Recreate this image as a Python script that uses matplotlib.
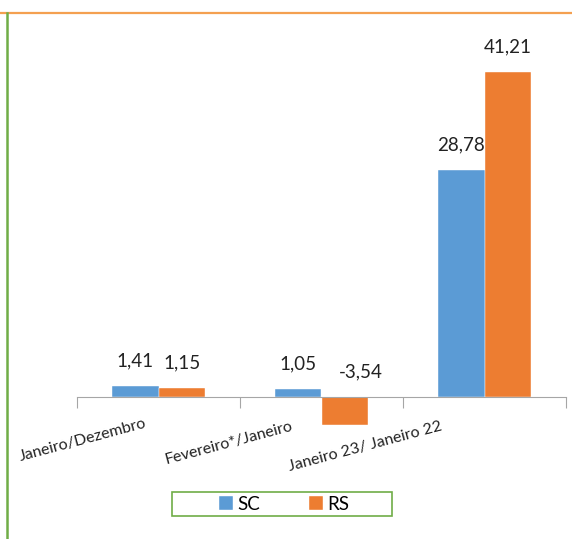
import matplotlib
matplotlib.use('Agg')
from matplotlib import pyplot as plt
from matplotlib.lines import Line2D
from matplotlib.patches import Rectangle
import numpy as np

categories = ['Janeiro/Dezembro', 'Fevereiro*/Janeiro', 'Janeiro 23/ Janeiro 22']
sc = [1.41, 1.05, 28.78]
rs = [1.15, -3.54, 41.21]
series_names = ['SC', 'RS']

blue = '#5B9BD5'
orange = '#ED7D31'
green = '#70AD47'

plt.rcParams['font.family'] = ['Lato', 'DejaVu Sans']

W, H = 572, 539
fig = plt.figure(figsize=(W/100, H/100), dpi=100)

# frame lines around the picture
fig.add_artist(Line2D([0, 1], [1 - 13/H]*2, color='#F4A050', lw=1.6))
fig.add_artist(Line2D([7/W]*2, [0, 1 - 13/H], color=green, lw=1.8))

ax_top, ax_bot = 20, 440
ax = fig.add_axes([77/W, 1 - ax_bot/H, (566 - 77)/W, (ax_bot - ax_top)/H])
ppu = 7.89  # pixels per unit
base = 397
ax.set_ylim((base - ax_bot)/ppu, (base - ax_top)/ppu)
ax.set_xlim(-0.5, 2.5)

x = np.arange(len(categories))
bw = 0.283
b1 = ax.bar(x - bw/2, sc, bw, color=blue, label=series_names[0], edgecolor='white', linewidth=0.3)
b2 = ax.bar(x + bw/2, rs, bw, color=orange, label=series_names[1], edgecolor='white', linewidth=0.3)

for bars, vals in ((b1, sc), (b2, rs)):
    for b, v in zip(bars, vals):
        dx = 12 if v < 0 else 0  # negative label nudged right like the original
        ax.annotate(f'{v:.2f}'.replace('.', ','), (b.get_x() + b.get_width()/2, max(v, 0)),
                    xytext=(dx, 12), textcoords='offset points',
                    ha='center', va='bottom', fontsize=13.5, color='#222222')

for s in ['top', 'right', 'left']:
    ax.spines[s].set_visible(False)
ax.spines['bottom'].set_position(('data', 0))
ax.spines['bottom'].set_color('#A6A6A6')
ax.set_yticks([])
ax.set_xticks([-0.5, 0.5, 1.5, 2.5])
ax.tick_params(axis='x', direction='out', length=8, color='#A6A6A6', labelbottom=False)

# rotated category labels, anchored at their right end (pixel offsets)
lab_dx = [-11, -28, -42]
lab_dy = [-30, -33, -33]
for i, c in enumerate(categories):
    ax.annotate(c, (i, 0), xytext=(lab_dx[i]*0.72, lab_dy[i]*0.72), textcoords='offset points',
                ha='right', va='baseline', rotation=15, rotation_mode='anchor',
                fontsize=11.5, color='#222222')

leg = fig.legend(handles=[b1, b2], loc='center', bbox_to_anchor=(284/W, 1 - 504/H),
                 ncol=2, frameon=False, fontsize=13.5,
                 handlelength=0.75, handleheight=0.75, handletextpad=0.25,
                 columnspacing=2.6, borderpad=0.2, borderaxespad=0)
fig.add_artist(Rectangle((172/W, 1 - 516/H), 220/W, 24/H, transform=fig.transFigure,
                         fill=False, edgecolor=green, lw=1.2))

fig.savefig('out.png', dpi=100)
